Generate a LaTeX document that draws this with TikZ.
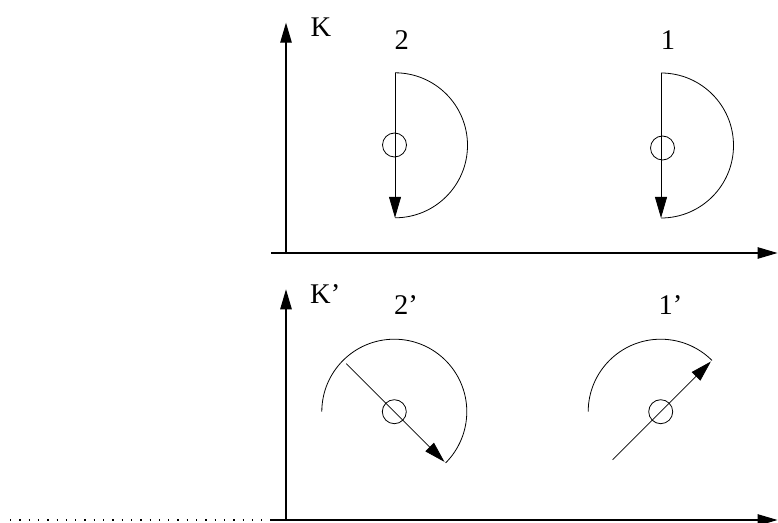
\documentclass[tikz,border=0pt]{standalone}
\usepackage{fontspec}
\setmainfont{Liberation Serif}
\usepackage{tikz}
\usetikzlibrary{arrows.meta, positioning, calc}

\begin{document}
\begin{tikzpicture}[x=1pt, y=1pt,
    axis/.style={line width=1.1pt, -{Triangle[length=20pt, width=11.5pt]}},
    spin/.style={line width=0.8pt},
    moment/.style={line width=0.8pt, -{Triangle[length=21pt, width=12pt]}},
    core/.style={circle, draw, line width=0.8pt, minimum size=24pt, inner sep=0pt},
    lbl/.style={font=\fontsize{28.5}{31}\selectfont, inner sep=0pt},
    guide/.style={line width=1.3pt, dash pattern=on 1.3pt off 8pt}
]
    \useasboundingbox (0,0) rectangle (778,522);

    \coordinate (oK) at (286,269);
    \coordinate (xK0) at (271,269);
    \coordinate (xK1) at (777.5,269);
    \coordinate (yK1) at (286,499.3);
    \coordinate (oKp) at (286,2);
    \coordinate (xKp0) at (271,2);
    \coordinate (xKp1) at (777.5,2);
    \coordinate (yKp1) at (286,232.7);
    \coordinate (dotL) at (10,2);

    \draw[axis] (xK0) -- (xK1);
    \draw[axis] (oK) -- (yK1);
    \draw[axis] (xKp0) -- (xKp1);
    \draw[axis] (oKp) -- (yKp1);
    \draw[guide] (dotL) -- (xKp0);

    \node[lbl, anchor=base west] (lblK) at (310.5,485.3) {K};
    \node[lbl, anchor=base west] (lblKp) at (310,218.7) {K'};
    \node[lbl, anchor=base] (lbl2) at (401.7,472.7) {2};
    \node[lbl, anchor=base] (lbl1) at (668,472.7) {1};
    \node[lbl, anchor=base west] (lbl2p) at (394,207) {2'};
    \node[lbl, anchor=base west] (lbl1p) at (658.5,207) {1'};

    \coordinate (s2) at (395,376.7);
    \coordinate (s1) at (661,376.5);
    \coordinate (s2p) at (394.3,110.3);
    \coordinate (s1p) at (660.7,110.3);

    \node[core] (c2) at (394.5,377) {};
    \node[core] (c1) at (662.5,374) {};
    \node[core] (c2p) at (s2p) {};
    \node[core] (c1p) at (s1p) {};

    \draw[spin] (s2) ++(90:72.5pt) arc[start angle=90, end angle=-90, radius=72.5pt];
    \draw[moment] (s2) ++(90:72.5pt) -- ++(0,-145pt);
    \draw[spin] (s1) ++(90:72.5pt) arc[start angle=90, end angle=-90, radius=72.5pt];
    \draw[moment] (s1) ++(90:72.5pt) -- ++(0,-145pt);

    \draw[spin] (s2p) ++(180:72.5pt) arc[start angle=180, end angle=-45, radius=72.5pt];
    \draw[moment] ($(s2p)+(135:68pt)$) -- ($(s2p)+(-45:71pt)$);
    \draw[spin] (s1p) ++(180:72.5pt) arc[start angle=180, end angle=45, radius=72.5pt];
    \draw[moment] ($(s1p)+(-135:68pt)$) -- ($(s1p)+(45:71pt)$);
\end{tikzpicture}
\end{document}
